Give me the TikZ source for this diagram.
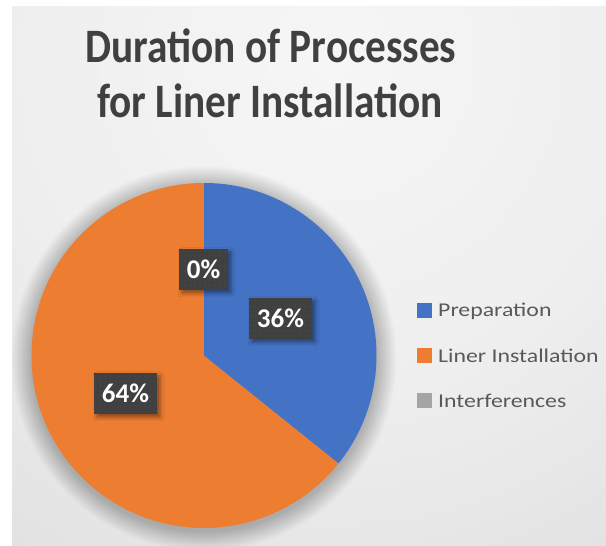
\documentclass[tikz,border=0pt]{standalone}
\usepackage{fontspec}
\setmainfont{Carlito}
\usetikzlibrary{shadows.blur,patterns.meta}

\definecolor{prepblue}{HTML}{4472C4}
\definecolor{lineorange}{HTML}{ED7D31}
\definecolor{intgray}{HTML}{A5A5A5}
\definecolor{titlegray}{HTML}{404040}
\definecolor{legendgray}{HTML}{595959}
\definecolor{labelbg}{HTML}{404040}
\definecolor{labeldot}{HTML}{525252}
\definecolor{bgA}{HTML}{F6F6F6}
\definecolor{bgB}{HTML}{EEEEEE}
\definecolor{bgC}{HTML}{E1E1E1}
\definecolor{bgD}{HTML}{C8C8C8}
\definecolor{bgE}{HTML}{BDBDBD}

% soft radial background, brightest under the title
\pgfdeclareradialshading{chartbg}{\pgfpoint{0bp}{0bp}}{%
  color(0bp)=(bgA); color(14bp)=(bgB); color(25bp)=(bgC);
  color(42.5bp)=(bgD); color(50bp)=(bgE)}

\tikzset{
  datalabel/.style={
    text=white, font=\bfseries\fontsize{27}{27}\selectfont,
    minimum width=63pt, minimum height=41pt, inner sep=0pt,
    preaction={fill=labelbg, blur shadow={shadow xshift=3pt, shadow yshift=-3pt,
      shadow blur radius=4pt, shadow opacity=45}},
    postaction={pattern={Dots[distance=5pt, radius=0.55pt]}, pattern color=labeldot}
  },
  legendkey/.style={minimum size=15pt, inner sep=0pt},
  legendtext/.style={anchor=west, text=legendgray, inner sep=0pt,
    font=\fontsize{19.5}{19.5}\selectfont},
  titletext/.style={anchor=base, text=titlegray, inner sep=0pt,
    font=\bfseries\fontsize{48}{48}\selectfont},
  shadowlayer/.style={fill=black, opacity=0.012}
}
\newcommand{\legwide}[1]{\scalebox{1.22}[1]{#1}}
\newcommand{\titlenarrow}[1]{\scalebox{0.86}[1]{#1}}

\begin{document}
\begin{tikzpicture}[x=1pt,y=1pt]
  \useasboundingbox (0,0) rectangle (606,546);
  \fill[white] (0,0) rectangle (606,546);

  % chart area
  \begin{scope}
    \clip (12,0) rectangle (606,539);
    \shade[shading=chartbg] (330,486) circle[radius=600];
  \end{scope}

  % title
  \node[titletext] (title1) at (271,483) {\titlenarrow{Duration of Processes}};
  \node[titletext] (title2) at (270,428) {\titlenarrow{for Liner Installation}};

  % soft shadow under the pie: stacked faint discs
  \foreach \k in {1,...,20}
    \fill[shadowlayer] (204,187.5) circle[radius=172.5+\k];

  % pie: centre (204,190.5), radius 172.5
  \fill[lineorange] (204,190.5) -- ++(90:172.5) arc[start angle=90, end angle=321.3, radius=172.5] -- cycle;
  \fill[prepblue] (204,190.5) -- ++(90:172.5) arc[start angle=90, end angle=-38.7, radius=172.5] -- cycle;

  % data labels
  \node[datalabel, minimum width=49pt] (lbl0) at (203.5,276.5) {0\%};
  \node[datalabel] (lbl36) at (280.5,227.5) {36\%};
  \node[datalabel] (lbl64) at (125.5,152.5) {64\%};

  % legend
  \node[legendkey, fill=prepblue]   (key1) at (424.5,235) {};
  \node[legendkey, fill=lineorange] (key2) at (424.5,190) {};
  \node[legendkey, fill=intgray]    (key3) at (424.5,145) {};
  \node[legendtext] (leg1) at (438,235) {\legwide{Preparation}};
  \node[legendtext] (leg2) at (438,190) {\legwide{Liner Installation}};
  \node[legendtext] (leg3) at (438,145) {\legwide{Interferences}};
\end{tikzpicture}
\end{document}
